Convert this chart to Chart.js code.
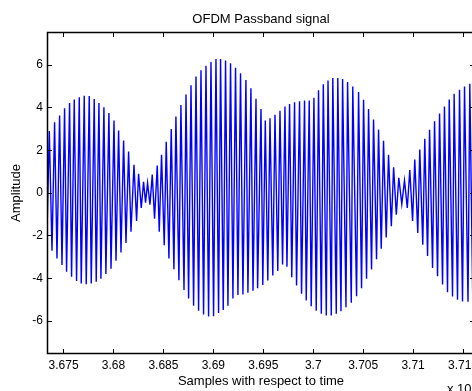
<!DOCTYPE html>
<html><head><meta charset="utf-8">
<script src="https://cdn.jsdelivr.net/npm/chart.js@4"></script>
<style>
html,body{margin:0;padding:0;background:#fff;overflow:hidden;}
#wrap{width:472px;height:391px;overflow:hidden;position:relative;background:#fff;}
canvas{display:block;}
</style></head><body>
<div id="wrap"><canvas id="c" width="490" height="391"></canvas></div>
<script>
// Sample index (time) of each successive peak/trough of the passband waveform
const samples=[36733.2,36735.7,36738.4,36741.0,36743.4,36746.0,36748.4,36751.0,36753.0,36756.0,36758.0,36760.7,36763.0,36765.7,36767.7,36770.7,36772.7,36775.7,36777.7,36780.7,36782.7,36785.4,36787.4,36790.4,36792.4,36795.4,36797.5,36800.5,36802.5,36805.1,36807.5,36810.1,36812.5,36815.1,36817.5,36820.5,36823.1,36825.1,36827.8,36830.1,36832.1,36834.1,36836.5,36838.8,36841.1,36843.8,36845.8,36848.1,36850.8,36852.8,36855.5,36857.8,36860.5,36862.5,36865.5,36867.5,36870.6,36872.6,36875.2,36877.6,36880.2,36882.6,36885.2,36887.6,36890.2,36892.6,36895.2,36897.6,36900.2,36902.6,36905.2,36907.2,36909.9,36912.2,36914.6,36917.2,36919.6,36922.2,36924.6,36927.2,36929.6,36932.6,36934.6,36937.6,36939.7,36942.7,36944.3,36947.7,36949.5,36952.0,36954.5,36956.7,36959.5,36961.7,36964.5,36966.7,36969.3,36971.7,36973.7,36976.3,36978.5,36981.3,36983.3,36986.3,36988.3,36991.3,36993.0,36996.0,36998.0,37000.7,37003.0,37005.3,37008.1,37010.1,37013.1,37014.8,37018.1,37019.6,37023.1,37024.6,37027.8,37029.4,37032.8,37034.4,37038.1,37039.6,37043.4,37045.4,37048.4,37050.4,37053.4,37055.4,37058.4,37060.4,37063.4,37065.4,37068.1,37070.4,37073.1,37075.4,37078.2,37080.5,37083.2,37085.7,37088.7,37091.4,37094.2,37096.7,37099.5,37101.7,37104.7,37106.7,37109.7,37111.7,37114.5,37116.5,37119.5,37121.5,37124.5,37126.5,37129.5,37131.4,37134.5,37136.2,37139.5,37141.1,37144.5,37146.5,37149.5,37151.5,37155.0,37156.8,37159.8,37161.8];
// Amplitude at each of those peaks/troughs
const amplitude=[-2.3,2.90,-2.71,3.32,-3.07,3.63,-3.38,3.97,-3.69,4.22,-3.93,4.38,-4.13,4.49,-4.24,4.56,-4.28,4.55,-4.24,4.41,-4.16,4.22,-4.02,4.02,-3.80,3.75,-3.55,3.40,-3.18,2.93,-2.79,2.46,-2.34,1.95,-1.82,1.32,-1.31,0.90,-0.70,0.53,-0.45,0.47,-0.55,0.86,-1.20,1.29,-1.82,1.79,-2.45,2.40,-3.07,3.00,-3.57,3.58,-4.09,4.12,-4.55,4.62,-4.94,5.05,-5.28,5.46,-5.52,5.75,-5.70,5.97,-5.79,6.14,-5.78,6.28,-5.62,6.28,-5.48,6.21,-5.28,6.08,-4.95,5.87,-4.78,5.61,-4.76,5.30,-4.67,4.91,-4.58,4.42,-4.47,3.94,-4.31,3.40,-4.10,3.50,-3.87,3.67,-3.65,3.86,-3.35,4.05,-3.46,4.17,-3.95,4.25,-4.34,4.30,-4.72,4.33,-5.04,4.33,-5.31,4.47,-5.52,4.82,-5.66,5.10,-5.74,5.27,-5.74,5.39,-5.66,5.39,-5.54,5.34,-5.36,5.20,-5.14,4.99,-4.84,4.73,-4.47,4.37,-4.02,3.94,-3.58,3.45,-3.10,2.97,-2.61,2.45,-2.09,1.79,-1.56,1.21,-1.02,0.71,-0.52,0.59,-0.70,1.08,-1.31,1.57,-1.87,2.04,-2.43,2.54,-2.95,2.96,-3.52,3.36,-3.90,3.73,-4.29,4.06,-4.65,4.38,-4.85,4.65,-5.00,4.84,-5.08,4.99,-5.10,5.12,-5.15,5.2];
const xTickValues=[36750,36800,36850,36900,36950,37000,37050,37100,37150];
const xTickLabels=['3.675','3.68','3.685','3.69','3.695','3.7','3.705','3.71','3.715'];
const yTickValues=[-6,-4,-2,0,2,4,6];
const yTickLabels=['-6','-4','-2','0','2','4','6'];
const xRange=[36734.4,37161];
const yRange=[-7.5,7.5];
const chartTitle='OFDM Passband signal';
const xTitle='Samples with respect to time';
const yTitle='Amplitude';
const xScaleNote='x 10';
const xScaleExp='4';

const FONT="'Liberation Sans', Arial, Helvetica, sans-serif";
Chart.defaults.font.family=FONT;
Chart.defaults.color='#000';

const n=Math.min(samples.length,amplitude.length);
const points=[];
for(let i=0;i<n;i++) points.push({x:samples[i],y:amplitude[i]});

const frame={
  id:'frame',
  afterDraw(chart){
    const {ctx,chartArea:a,scales}=chart;
    ctx.save();
    ctx.strokeStyle='#000';
    ctx.lineWidth=1;
    ctx.beginPath();
    xTickValues.forEach(v=>{
      const p=Math.floor(scales.x.getPixelForValue(v))+0.5;
      ctx.moveTo(p,a.bottom);ctx.lineTo(p,a.bottom-4);
      ctx.moveTo(p,a.top);ctx.lineTo(p,a.top+4);
    });
    yTickValues.forEach(v=>{
      const p=Math.floor(scales.y.getPixelForValue(v))+0.5;
      ctx.moveTo(a.left,p);ctx.lineTo(a.left+4,p);
      ctx.moveTo(a.right,p);ctx.lineTo(a.right-4,p);
    });
    ctx.stroke();
    ctx.lineWidth=1.5;
    ctx.strokeRect(a.left-0.5,a.top-0.5,a.right-a.left,a.bottom-a.top+1);
    ctx.fillStyle='#000';
    ctx.font='13px '+FONT;
    ctx.textBaseline='alphabetic';
    ctx.textAlign='left';
    const nx=447;
    ctx.fillText(xScaleNote,nx,393);
    const w=ctx.measureText(xScaleNote).width;
    ctx.font='9px '+FONT;
    ctx.fillText(xScaleExp,nx+w+1,387);
    ctx.restore();
  }
};

new Chart(document.getElementById('c'),{
  type:'line',
  data:{datasets:[{data:points,borderColor:'#0000ff',borderWidth:1.4,pointRadius:0,tension:0,fill:false}]},
  options:{
    responsive:false,animation:false,devicePixelRatio:1,
    parsing:true,
    layout:{padding:{left:0,right:16,top:0,bottom:0}},
    plugins:{
      legend:{display:false},tooltip:{enabled:false},
      title:{display:true,text:chartTitle,fullSize:false,font:{size:13,weight:'normal'},padding:{top:11.5,bottom:5.9},color:'#000'}
    },
    scales:{
      x:{type:'linear',min:xRange[0],max:xRange[1],
        grid:{display:false,drawTicks:false},border:{display:false},
        afterBuildTicks(s){s.ticks=xTickValues.map(v=>({value:v}));},
        afterFit(s){s.height=38;},
        ticks:{autoSkip:false,maxRotation:0,padding:5,font:{size:12},callback:(v)=>{const i=xTickValues.indexOf(v);return i<0?'':xTickLabels[i];}},
        title:{display:true,text:xTitle,font:{size:13},padding:{top:0,bottom:1.5}}
      },
      y:{type:'linear',min:yRange[0],max:yRange[1],
        grid:{display:false,drawTicks:false},border:{display:false},
        afterBuildTicks(s){s.ticks=yTickValues.map(v=>({value:v}));},
        afterFit(s){s.width=48;},
        ticks:{autoSkip:false,padding:5,font:{size:12},callback:(v)=>{const i=yTickValues.indexOf(v);return i<0?'':yTickLabels[i];}},
        title:{display:true,text:yTitle,font:{size:13},padding:{top:9,bottom:0}}
      }
    }
  },
  plugins:[frame]
});
</script>
</body></html>
